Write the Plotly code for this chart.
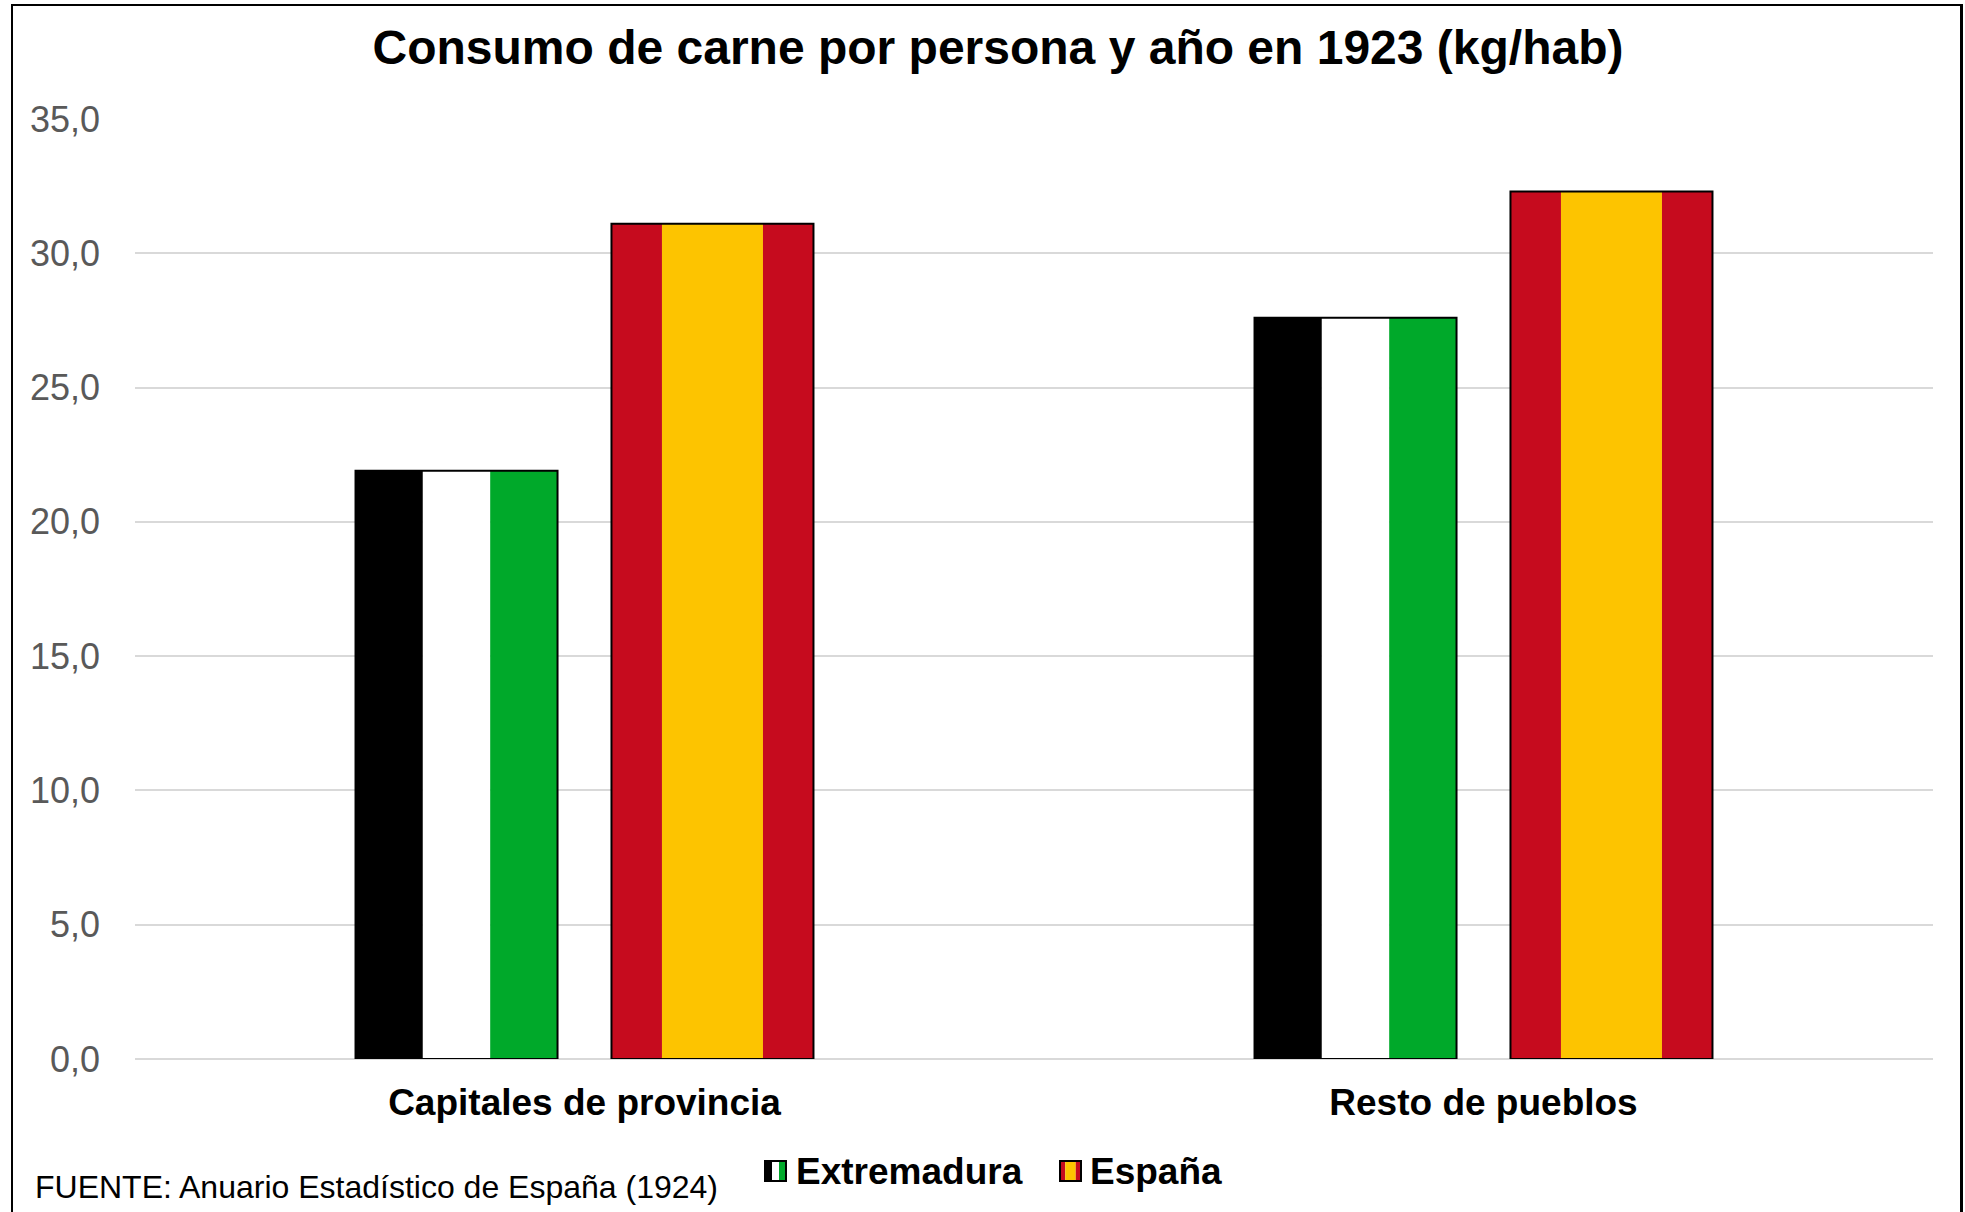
import plotly.graph_objects as go

# ---- data ----
categories = ["Capitales de provincia", "Resto de pueblos"]
extremadura = [21.9, 27.6]
espana = [31.1, 32.3]
series_names = ["Extremadura", "España"]
title_text = "Consumo de carne por persona y año en 1923 (kg/hab)"
source_text = "FUENTE: Anuario Estadístico de España (1924)"

# ---- styles ----
W, H = 1965, 1212
PL, PR, PT, PB = 135, 1933, 119, 1059  # plot area in page pixels
ML, MT = PL, PT
MR, MB = W - PR, H - PB
PW, PH = PR - PL, PB - PT
FONT = "Arial, 'Liberation Sans', sans-serif"
BLACK, WHITE, GREEN = "#000000", "#FFFFFF", "#00A92A"
RED, YELLOW = "#C60B1E", "#FDC400"
BW = 0.2247
EXT_OFF = -0.2547
ESP_OFF = 0.0300
ext_stripes = [(BLACK, 1), (WHITE, 1), (GREEN, 1)]
esp_stripes = [(RED, 1), (YELLOW, 2), (RED, 1)]


def px(x):
    return (x - PL) / PW


def py(y):
    return (PB - y) / PH


fig = go.Figure()


def add_striped(values, offset, stripes, name):
    total = sum(s[1] for s in stripes)
    pos = offset
    for color, frac in stripes:
        w = BW * frac / total
        fig.add_trace(go.Bar(
            x=categories, y=values, offset=pos, width=w, name=name,
            marker=dict(color=color, line=dict(width=0)),
            showlegend=False, hoverinfo="skip"))
        pos += w
    fig.add_trace(go.Bar(
        x=categories, y=values, offset=offset, width=BW, name=name,
        marker=dict(color="rgba(0,0,0,0)", line=dict(color=BLACK, width=2)),
        showlegend=False,
        hovertemplate="%{x}<br>" + name + ": %{y:.1f}<extra></extra>"))


add_striped(extremadura, EXT_OFF, ext_stripes, series_names[0])
add_striped(espana, ESP_OFF, esp_stripes, series_names[1])

shapes = []
# frame (left, top, right)
shapes.append(dict(type="line", xref="paper", yref="paper", x0=px(12), x1=px(12),
                   y0=py(H + 5), y1=py(4), line=dict(color=BLACK, width=2)))
shapes.append(dict(type="line", xref="paper", yref="paper", x0=px(11), x1=px(1963),
                   y0=py(5), y1=py(5), line=dict(color=BLACK, width=2)))
shapes.append(dict(type="line", xref="paper", yref="paper", x0=px(1961.5), x1=px(1961.5),
                   y0=py(H + 5), y1=py(4), line=dict(color=BLACK, width=3)))

annotations = []


def legend_item(x0, stripes, label, text_x):
    y0, y1 = 1161, 1181
    total = sum(s[1] for s in stripes)
    w = 21
    pos = x0
    for color, frac in stripes:
        sw = w * frac / total
        shapes.append(dict(type="rect", xref="paper", yref="paper",
                           x0=px(pos), x1=px(pos + sw), y0=py(y1), y1=py(y0),
                           fillcolor=color, line=dict(width=0)))
        pos += sw
    shapes.append(dict(type="rect", xref="paper", yref="paper",
                       x0=px(x0), x1=px(x0 + w), y0=py(y1), y1=py(y0),
                       fillcolor="rgba(0,0,0,0)", line=dict(color=BLACK, width=2)))
    annotations.append(dict(text="<b>" + label + "</b>", xref="paper", yref="paper",
                            x=px(text_x), y=py(1171), xanchor="left", yanchor="middle",
                            showarrow=False, font=dict(family=FONT, size=37, color=BLACK)))


legend_item(765, ext_stripes, series_names[0], 794)
legend_item(1060, esp_stripes, series_names[1], 1088)

annotations.append(dict(text=source_text, xref="paper", yref="paper",
                        x=px(33), y=py(1187), xanchor="left", yanchor="middle",
                        showarrow=False, font=dict(family=FONT, size=32, color=BLACK)))

fig.update_layout(
    width=W, height=H,
    margin=dict(l=ML, r=MR, t=MT, b=MB, pad=0),
    paper_bgcolor="white", plot_bgcolor="white",
    barmode="overlay",
    separators=",.",
    showlegend=False,
    font=dict(family=FONT),
    title=dict(text="<b>" + title_text + "</b>", x=998 / W, xanchor="center",
               y=1 - 47 / H, yanchor="middle",
               font=dict(family=FONT, size=48, color=BLACK)),
    xaxis=dict(type="category", showgrid=False, showline=False, ticks="",
               tickfont=dict(family=FONT, size=37, color=BLACK),
               ticktext=["<b>" + c + "</b>" for c in categories],
               tickvals=categories, ticklabelstandoff=18),
    yaxis=dict(range=[0, 35], dtick=5, tickformat=".1f",
               showgrid=True, gridcolor="#D9D9D9", gridwidth=2,
               zeroline=True, zerolinecolor="#D9D9D9", zerolinewidth=2,
               showline=False, ticks="",
               tickfont=dict(family=FONT, size=36, color="#595959"),
               ticklabelstandoff=34),
    shapes=shapes,
    annotations=annotations,
)

fig.write_html(
    "out.html",
    config={"displayModeBar": False},
    post_script="document.body.style.margin='0';document.body.style.overflow='hidden';",
)
